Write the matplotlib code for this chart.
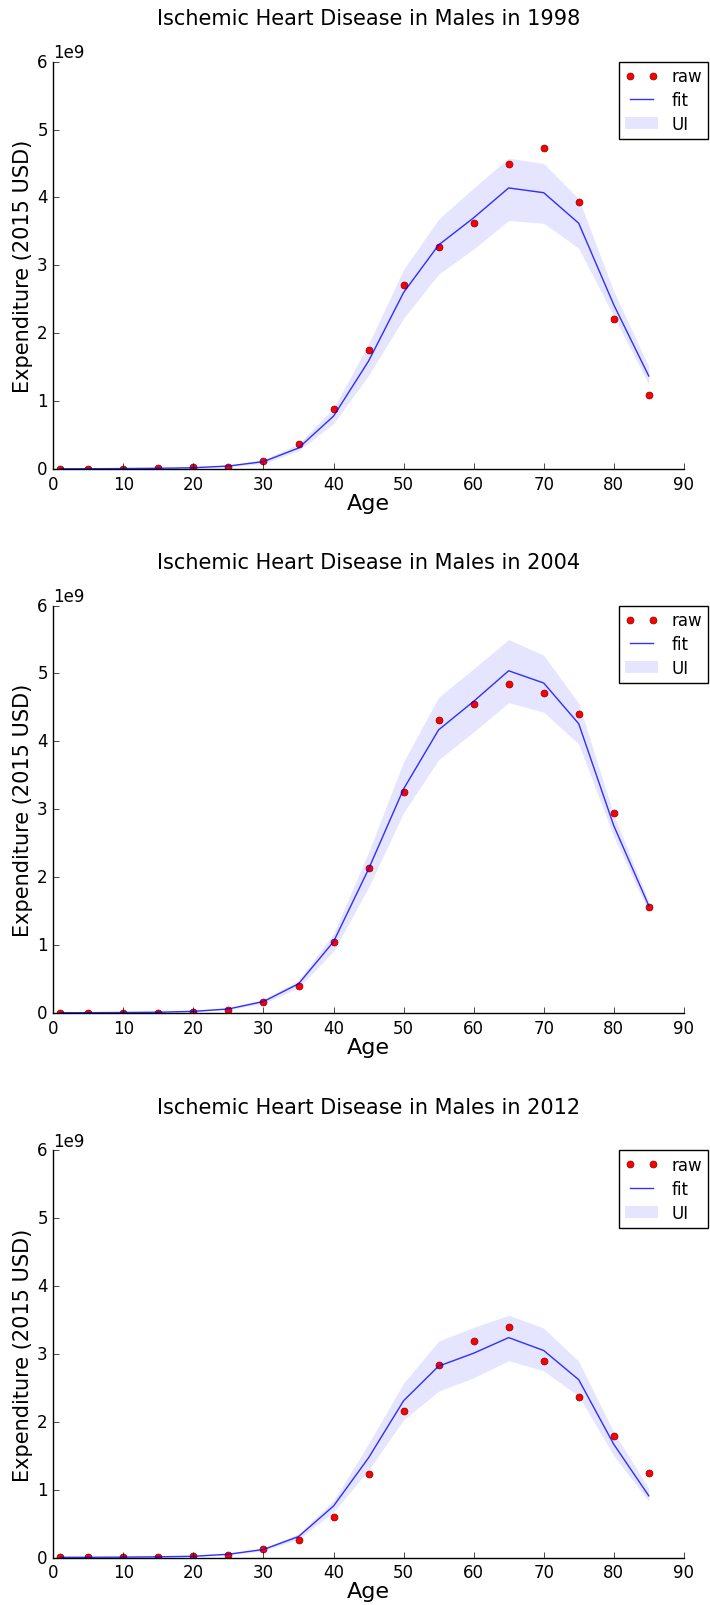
import matplotlib
matplotlib.use("Agg")
import matplotlib.pyplot as plt
import numpy as np

plt.style.use("classic")
plt.rcParams["figure.facecolor"] = "white"
plt.rcParams["savefig.facecolor"] = "white"

ages = [1, 5, 10, 15, 20, 25, 30, 35, 40, 45, 50, 55, 60, 65, 70, 75, 80, 85]
years = [1998, 2004, 2012]

# values in billions of 2015 USD
raw_1998 = [0.005, 0.005, 0.005, 0.01, 0.025, 0.03, 0.12, 0.37, 0.88, 1.75, 2.71, 3.27, 3.62, 4.49, 4.73, 3.94, 2.21, 1.09]
fit_1998 = [0.005, 0.005, 0.008, 0.012, 0.02, 0.045, 0.11, 0.31, 0.78, 1.59, 2.6, 3.3, 3.7, 4.14, 4.07, 3.62, 2.42, 1.37]
up_1998 = [0.007, 0.007, 0.01, 0.015, 0.025, 0.055, 0.14, 0.37, 0.9, 1.84, 2.94, 3.68, 4.14, 4.58, 4.5, 3.98, 2.62, 1.51]
lo_1998 = [0.003, 0.003, 0.006, 0.009, 0.015, 0.035, 0.08, 0.27, 0.67, 1.38, 2.22, 2.87, 3.24, 3.66, 3.62, 3.25, 2.25, 1.25]

raw_2004 = [0.005, 0.005, 0.005, 0.005, 0.02, 0.04, 0.16, 0.4, 1.04, 2.14, 3.26, 4.31, 4.55, 4.85, 4.72, 4.4, 2.95, 1.56]
fit_2004 = [0.005, 0.005, 0.008, 0.012, 0.025, 0.06, 0.17, 0.43, 1.05, 2.12, 3.3, 4.17, 4.59, 5.04, 4.86, 4.26, 2.76, 1.58]
up_2004 = [0.007, 0.007, 0.01, 0.015, 0.03, 0.07, 0.2, 0.48, 1.17, 2.37, 3.7, 4.65, 5.07, 5.5, 5.27, 4.56, 2.92, 1.65]
lo_2004 = [0.003, 0.003, 0.006, 0.009, 0.02, 0.05, 0.14, 0.37, 0.91, 1.85, 2.95, 3.73, 4.14, 4.57, 4.43, 3.96, 2.6, 1.48]

raw_2012 = [0.005, 0.01, 0.005, 0.005, 0.02, 0.04, 0.12, 0.26, 0.6, 1.23, 2.16, 2.83, 3.19, 3.4, 2.9, 2.37, 1.79, 1.24]
fit_2012 = [0.005, 0.005, 0.008, 0.012, 0.02, 0.05, 0.12, 0.31, 0.76, 1.47, 2.31, 2.82, 3.01, 3.24, 3.05, 2.62, 1.67, 0.91]
up_2012 = [0.007, 0.007, 0.01, 0.015, 0.025, 0.06, 0.14, 0.35, 0.84, 1.68, 2.57, 3.19, 3.39, 3.57, 3.38, 2.89, 1.85, 1.02]
lo_2012 = [0.003, 0.003, 0.006, 0.009, 0.015, 0.04, 0.1, 0.27, 0.67, 1.29, 2.03, 2.45, 2.65, 2.9, 2.75, 2.38, 1.5, 0.83]

raws = [raw_1998, raw_2004, raw_2012]
fits = [fit_1998, fit_2004, fit_2012]
ups = [up_1998, up_2004, up_2012]
los = [lo_1998, lo_2004, lo_2012]

fig = plt.figure(figsize=(7.1, 16.06), dpi=100)

bottoms = [0.7073, 0.3686, 0.0295]
for i in range(3):
    ax = fig.add_axes([0.0751, bottoms[i], 0.888, 0.2537])
    scale = 1e9
    ax.plot(ages, np.array(raws[i]) * scale, "o", color="red", markeredgecolor="#800000",
            markeredgewidth=0.5, markersize=5, label="raw")
    ax.plot(ages, np.array(fits[i]) * scale, "-", color="blue", linewidth=1, alpha=0.8, label="fit")
    ax.fill_between(ages, np.array(los[i]) * scale, np.array(ups[i]) * scale,
                    color="blue", alpha=0.1, linewidth=0, label="UI")
    ax.set_xlim(0, 90)
    ax.set_ylim(0, 6e9)
    ax.set_title("Ischemic Heart Disease in Males in %d" % years[i], fontsize=15, y=1.075)
    ax.set_xlabel("Age", fontsize=16, labelpad=0)
    ax.set_ylabel("Expenditure (2015 USD)", fontsize=15, labelpad=3)
    ax.spines["top"].set_visible(False)
    ax.spines["right"].set_visible(False)
    ax.xaxis.set_ticks_position("bottom")
    ax.yaxis.set_ticks_position("left")
    ax.tick_params(labelsize=12)
    ax.legend(loc="upper right", bbox_to_anchor=(1.038, 1.0), borderaxespad=0,
              numpoints=2, fontsize=12, labelspacing=0.35, borderpad=0.35)

fig.savefig("out.png", dpi=100)
